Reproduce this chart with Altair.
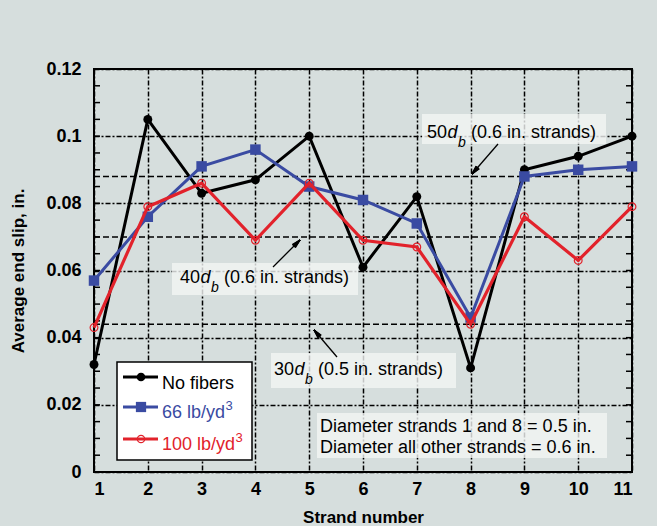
import altair as alt
import numpy as np
import pandas as pd

# ---- data -------------------------------------------------------------
strands = [1, 2, 3, 4, 5, 6, 7, 8, 9, 10, 11]
no_fibers = [0.032, 0.105, 0.083, 0.087, 0.100, 0.061, 0.082, 0.031, 0.090, 0.094, 0.100]
fiber_66 = [0.057, 0.076, 0.091, 0.096, 0.085, 0.081, 0.074, 0.046, 0.088, 0.090, 0.091]
fiber_100 = [0.043, 0.079, 0.086, 0.069, 0.086, 0.069, 0.067, 0.044, 0.076, 0.063, 0.079]
series_names = ["No fibers", "66 lb/yd3", "100 lb/yd3"]

# allowable end-slip levels: 50d_b and 40d_b (0.6 in. strands), 30d_b (0.5 in. strands)
slip_limits = [0.088, 0.070, 0.044]
y_ticks = [0, 0.02, 0.04, 0.06, 0.08, 0.10, 0.12]

# ---- layout -----------------------------------------------------------
W, H = 538, 403
FONT = "Liberation Sans"
BLACK, BLUE, RED = "#000000", "#3a4ba2", "#e2222b"

df = pd.DataFrame({
    "strand": strands * 3,
    "slip": no_fibers + fiber_66 + fiber_100,
    "series": [series_names[0]] * 11 + [series_names[1]] * 11 + [series_names[2]] * 11,
})

x_enc = alt.X("strand:Q", scale=alt.Scale(domain=[1, 11], nice=False, zero=False),
              axis=alt.Axis(values=strands, title="Strand number", labelPadding=8,
                            titlePadding=11))
y_enc = alt.Y("slip:Q", scale=alt.Scale(domain=[0, 0.12], nice=False),
              axis=alt.Axis(values=y_ticks, title="Average end slip, in.",
                            labelExpr="format(datum.value, '.2~f')",
                            labelPadding=13, titlePadding=18))

dummy = pd.DataFrame({"k": [0]})

# ---- series -----------------------------------------------------------
def series_layers(name, color, shape, size, filled, stroke_w):
    base = alt.Chart(df).transform_filter(alt.datum.series == name)
    line = base.mark_line(color=color, strokeWidth=stroke_w).encode(x=x_enc, y=y_enc)
    pts = base.mark_point(shape=shape, size=size, filled=filled, color=color,
                          opacity=1, strokeWidth=1.2).encode(x=x_enc, y=y_enc)
    return [line, pts]

# ---- reference slip limits ------------------------------------------
limits = alt.Chart(pd.DataFrame({"slip": slip_limits})).mark_rule(
    color="black", strokeWidth=1.5, strokeDash=[6, 3]
).encode(y=y_enc, x=alt.value(0), x2=alt.value(W))

# ---- inner minor ticks on both vertical edges -----------------------
minor = pd.DataFrame({"slip": np.round(np.arange(0, 0.1201, 0.005), 3)})
ticks_left = alt.Chart(minor).mark_rule(color="black", strokeWidth=1.5).encode(
    y=y_enc, x=alt.value(0), x2=alt.value(6))
ticks_right = alt.Chart(minor).mark_rule(color="black", strokeWidth=1.5).encode(
    y=y_enc, x=alt.value(W - 6), x2=alt.value(W))

# ---- annotation helpers ----------------------------------------------
def box(x0, y0, x1, y1, fill="#f3f5f4", opacity=0.8, stroke=None):
    kw = dict(fill=fill, fillOpacity=opacity)
    if stroke:
        kw.update(stroke=stroke, strokeWidth=1.5)
    return alt.Chart(dummy).mark_rect(**kw).encode(
        x=alt.value(x0), x2=alt.value(x1), y=alt.value(y0), y2=alt.value(y1))

def text(x, y, s, size=18, color="black", style="normal", weight="normal",
         baseline="alphabetic"):
    return alt.Chart(dummy).mark_text(
        text=s, align="left", baseline=baseline, font=FONT, fontSize=size,
        fontStyle=style, fontWeight=weight, color=color
    ).encode(x=alt.value(x), y=alt.value(y))

def db_label(x, y, n, rest):
    return [
        text(x, y, n),
        text(x + 20.5, y, "d", style="italic"),
        text(x + 31, y + 9, "b", size=14, style="italic"),
        text(x + 44, y, "(" + rest + " in. strands)"),
    ]

def segment(x0, y0, x1, y1, width):
    return alt.Chart(dummy).mark_rule(color="black", strokeWidth=width).encode(
        x=alt.value(float(x0)), y=alt.value(float(y0)),
        x2=alt.value(float(x1)), y2=alt.value(float(y1)))

def arrow(x0, y0, x1, y1, head_len=9.0, spread_deg=14.0):
    # shaft plus a narrow filled-looking head built from a fan of short strokes
    parts = [segment(x0, y0, x1, y1, 1.3)]
    back = np.arctan2(y0 - y1, x0 - x1)
    for a in np.linspace(-spread_deg, spread_deg, 9):
        t = back + np.radians(a)
        parts.append(segment(x1, y1, x1 + head_len * np.cos(t),
                             y1 + head_len * np.sin(t), 1.3))
    return parts

annotations = []
# 50 d_b
annotations += [box(328, 45, 512, 75)] + db_label(333, 69, "50", "0.6")
annotations += arrow(404, 75, 378, 105)
# 40 d_b
annotations += [box(78, 194, 264, 226)] + db_label(86, 214, "40", "0.6")
annotations += arrow(179, 198, 206, 171)
# 30 d_b
annotations += [box(177, 284, 362, 319)] + db_label(180, 306, "30", "0.5")
annotations += arrow(243, 288, 220, 261)
# strand diameters note
annotations += [box(223, 344, 513, 389),
                text(226, 363, "Diameter strands 1 and 8 = 0.5 in."),
                text(226, 384, "Diameter all other strands = 0.6 in.")]

# ---- hand-drawn legend -----------------------------------------------
legend = [box(23, 293, 158, 391, fill="white", opacity=1, stroke="black")]
legend_rows = [
    ("No fibers", "", BLACK, "circle", 75, True, 308, 315, 0),
    ("66 lb/yd", "3", BLUE, "square", 105, True, 338, 344, 63),
    ("100 lb/yd", "3", RED, "circle", 55, False, 370, 376, 73),
]
for label, sup, color, shape, size, filled, ly, ty, sup_dx in legend_rows:
    legend.append(alt.Chart(dummy).mark_rule(color=color, strokeWidth=3).encode(
        x=alt.value(29), x2=alt.value(64), y=alt.value(ly)))
    legend.append(alt.Chart(dummy).mark_point(
        shape=shape, size=size, filled=filled, color=color, opacity=1, strokeWidth=1.2
    ).encode(x=alt.value(47), y=alt.value(ly)))
    legend.append(text(68, ty, label, color=color, baseline="middle"))
    if sup:
        legend.append(text(68 + sup_dx + 0.5, ty - 7, sup, size=13, color=color,
                           baseline="middle"))

layers = [limits, ticks_left, ticks_right] + annotations
layers += series_layers(series_names[0], BLACK, "circle", 80, True, 3)
layers += series_layers(series_names[1], BLUE, "square", 110, True, 3)
layers += series_layers(series_names[2], RED, "circle", 60, False, 3.2)
layers += legend

chart = alt.layer(*layers).properties(
    width=W, height=H,
    background="#d6dedd",
    autosize=alt.AutoSizeParams(type="none"),
    padding={"left": 94, "top": 69, "right": 25, "bottom": 54},
).configure_view(
    stroke="black", strokeWidth=2, fill="#d6dedd"
).configure_axis(
    labelFont=FONT, labelFontSize=18, labelFontWeight="bold", labelColor="black",
    titleFont=FONT, titleFontSize=17, titleFontWeight="bold", titleColor="black",
    domain=False, ticks=False, tickSize=0,
    grid=True, gridColor="black", gridWidth=1.5, gridDash=[5, 2, 2, 2], gridOpacity=1,
)

chart.save("out.html", embed_options={"renderer": "svg", "actions": False})
